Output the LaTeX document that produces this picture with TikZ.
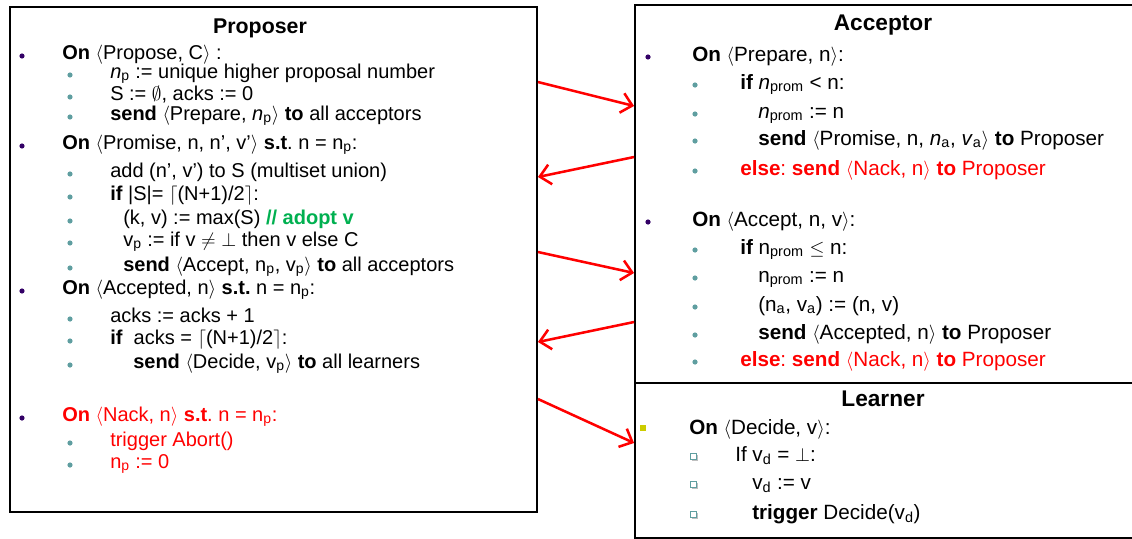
\documentclass[tikz,border=0pt]{standalone}
\usepackage{fontspec}
\setmainfont{Liberation Sans}
\usetikzlibrary{arrows.meta,fit}
\frenchspacing

\definecolor{bulletpurple}{RGB}{51,0,102}
\definecolor{bulletteal}{RGB}{95,158,160}
\definecolor{msgred}{RGB}{255,0,0}
\definecolor{adoptgreen}{RGB}{0,176,80}
\definecolor{learnlime}{RGB}{204,204,0}

\newcommand{\ang}[1]{$\langle$#1$\rangle$}
\newcommand{\lo}[1]{\textsubscript{#1}}

\begin{document}
\begin{tikzpicture}[x=0.75pt,y=-0.75pt,
    box/.style={draw=black, line width=1.4pt, inner sep=0pt},
    msg/.style={draw=msgred, line width=1.9pt, -{Straight Barb[length=8pt,width=15pt]}},
    ptitle/.style={font=\fontsize{16}{18}\selectfont\bfseries, anchor=base, inner sep=0pt},
    atitle/.style={font=\fontsize{17}{19}\selectfont\bfseries, anchor=base, inner sep=0pt},
    ptext/.style={font=\fontsize{15}{17}\selectfont, anchor=base west, inner sep=0pt},
    atext/.style={font=\fontsize{15.5}{18}\selectfont, anchor=base west, inner sep=0pt}]

    \useasboundingbox (0,0) rectangle (1132,539);

    % the three roles
    \node[box, fit={(10,7) (537,512)}] (prop) {};
    \node[box, fit={(635,5) (1134,383)}] (acc) {};
    \node[box, fit={(635,383) (1134,538)}] (lrn) {};

    \node[ptitle] (propT) at (260,33) {Proposer};
    \node[atitle] (accT) at (883,31) {Acceptor};
    \node[atitle] (lrnT) at (883,406) {Learner};

    % proposer: bullet colour / bullet x / text x / baseline / text
    \foreach \c/\b/\x/\y/\t [count=\i] in {
        bulletpurple/22/62/59/{\textbf{On} \ang{Propose, C} :},
        bulletteal/70/110/78/{\textit{n}\lo{p} := unique higher proposal number},
        bulletteal/70/110/100/{S := $\emptyset$, acks := 0},
        bulletteal/70/110/120/{\textbf{send} \ang{Prepare, \textit{n}\lo{p}} \textbf{to} all acceptors},
        bulletpurple/22/62/149/{\textbf{On} \ang{Promise, n, n', v'} \textbf{s.t}. n = n\lo{p}:},
        bulletteal/70/110/177/{add (n', v') to S (multiset union)},
        bulletteal/70/110/200/{\textbf{if} |S|= $\lceil$(N+1)/2$\rceil$:},
        bulletteal/70/123/224/{(k, v) := max(S) {\color{adoptgreen}\textbf{// adopt v}}},
        bulletteal/70/123/246/{v\lo{p} := if v $\neq$ $\perp$ then v else C},
        bulletteal/70/123/271/{\textbf{send} \ang{Accept, n\lo{p}, v\lo{p}} \textbf{to} all acceptors},
        bulletpurple/22/62/294/{\textbf{On} \ang{Accepted, n} \textbf{s.t.} n = n\lo{p}:},
        bulletteal/70/110/322/{acks := acks + 1},
        bulletteal/70/110/344/{\textbf{if}\ \ acks = $\lceil$(N+1)/2$\rceil$:},
        bulletteal/70/133/368/{\textbf{send} \ang{Decide, v\lo{p}} \textbf{to} all learners},
        bulletpurple/22/62/421/{\color{msgred}\textbf{On} \ang{Nack, n} \textbf{s.t}. n = n\lo{p}:},
        bulletteal/70/110/446/{\color{msgred}trigger Abort()},
        bulletteal/70/110/468/{\color{msgred}n\lo{p} := 0}} {
        \fill[\c] (\b,\y-3) circle[radius=2.6];
        \node[ptext] (prop\i) at (\x,\y) {\t};
    }

    % acceptor
    \foreach \c/\b/\x/\y/\t [count=\i] in {
        bulletpurple/648/692/61/{\textbf{On} \ang{Prepare, n}:},
        bulletteal/695/740/89/{\textbf{if} \textit{n}\lo{prom} < n:},
        bulletteal/695/758/118/{\textit{n}\lo{prom} := n},
        bulletteal/695/758/145/{\textbf{send} \ang{Promise, n, \textit{n}\lo{a}, \textit{v}\lo{a}} \textbf{to} Proposer},
        bulletteal/695/740/175/{\color{msgred}\textbf{else}: \textbf{send} \ang{Nack, n} \textbf{to} Proposer},
        bulletpurple/648/692/226/{\textbf{On} \ang{Accept, n, v}:},
        bulletteal/695/740/254/{\textbf{if} n\lo{prom} $\leq$ n:},
        bulletteal/695/758/282/{n\lo{prom} := n},
        bulletteal/695/758/311/{(n\lo{a}, v\lo{a}) := (n, v)},
        bulletteal/695/758/339/{\textbf{send} \ang{Accepted, n} \textbf{to} Proposer},
        bulletteal/695/740/366/{\color{msgred}\textbf{else}: \textbf{send} \ang{Nack, n} \textbf{to} Proposer}} {
        \fill[\c] (\b,\y-4) circle[radius=2.6];
        \node[atext] (acc\i) at (\x,\y) {\t};
    }

    % learner
    \fill[learnlime] (640,425) rectangle (646,431);
    \node[atext] (lrn1) at (689,434) {\textbf{On} \ang{Decide, v}:};
    \foreach \x/\y/\t [count=\i from 2] in {
        735/461/{If v\lo{d} = $\perp$:},
        752/489/{v\lo{d} := v},
        752/519/{\textbf{trigger} Decide(v\lo{d})}} {
        \fill[gray!50] (692,\y-6) rectangle (698,\y);
        \draw[bulletteal, fill=white, line width=0.5pt] (690,\y-8) rectangle (696,\y-2);
        \node[atext] (lrn\i) at (\x,\y) {\t};
    }

    % messages
    \draw[msg] (prop.east |- 0,82) -- (acc.west |- 0,106);
    \draw[msg] (acc.west |- 0,157) -- (prop.east |- 0,177);
    \draw[msg] (prop.east |- 0,252) -- (acc.west |- 0,273);
    \draw[msg] (acc.west |- 0,322) -- (prop.east |- 0,342);
    \draw[msg] (prop.east |- 0,399) -- (lrn.west |- 0,443);
\end{tikzpicture}
\end{document}
